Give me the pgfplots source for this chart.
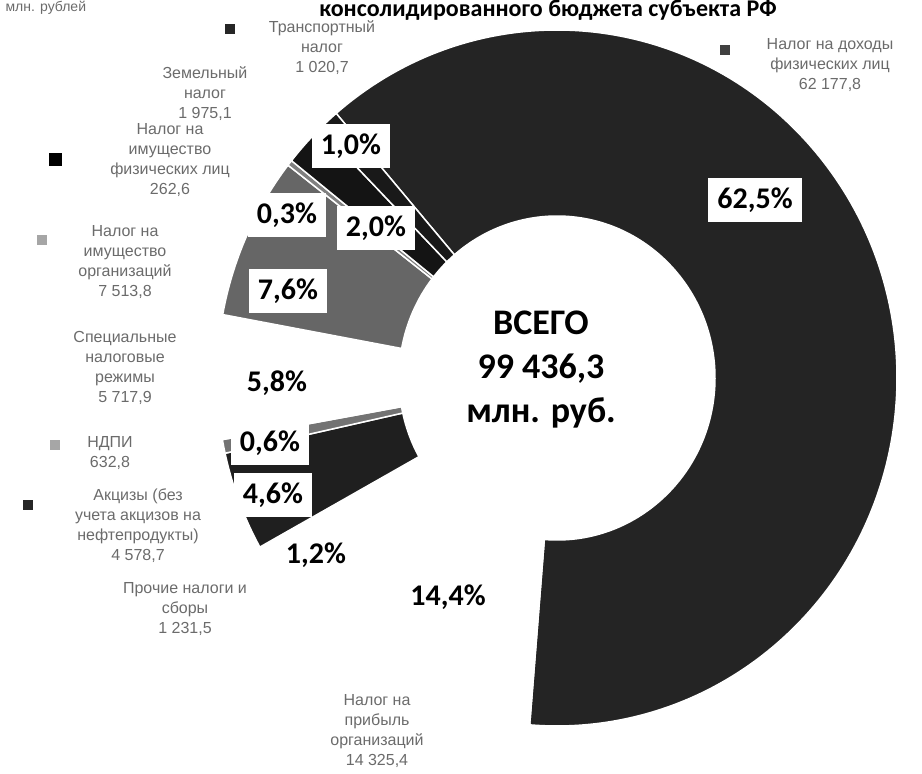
\documentclass[border=0pt]{standalone}
\usepackage{pgfplots}
\usepackage{pgfplotstable}
\pgfplotsset{compat=1.18}
\usepackage{fontspec}
\setmainfont{Carlito}
\newfontfamily\labfont{Liberation Sans}
\definecolor{labgray}{gray}{0.42}

% tax revenue of the consolidated budget, mln rub (clockwise from the top-left)
\pgfplotstableread{
value   dark
62177.8 86
14325.4 0
1231.5  0
4578.7  88
632.8   55
5717.9  0
7513.8  60
262.6   50
1975.1  92
1020.7  90
}\taxdata

\pgfplotstablegetrowsof{\taxdata}
\pgfmathtruncatemacro\lastrow{\pgfplotsretval-1}

\tikzset{
  pct/.style={font=\fontsize{30}{36}\selectfont\bfseries, text=black, inner sep=0pt},
  pctbox/.style={pct, fill=white, inner xsep=9pt, inner ysep=10pt},
  lab/.style={align=center, font=\labfont\fontsize{16}{20}\selectfont, text=labgray},
  key/.style={minimum size=10pt, inner sep=0pt}
}

\begin{document}
\begin{tikzpicture}
\useasboundingbox (0,0) rectangle (922pt,774pt);
\begin{axis}[
  at={(0,0)}, anchor=south west,
  x=1pt, y=1pt, scale only axis,
  xmin=0, xmax=922, ymin=0, ymax=774,
  hide axis, clip=false
]
% doughnut slices
\def\cumangle{130.5}
\pgfplotsforeachungrouped \i in {0,...,\lastrow}{%
  \pgfplotstablegetelem{\i}{value}\of\taxdata \let\val\pgfplotsretval
  \pgfplotstablegetelem{\i}{dark}\of\taxdata \let\dk\pgfplotsretval
  \edef\endangle{\fpeval{round(\cumangle-360*\val/99436.3,4)}}%
  \edef\temp{\noexpand\fill[black!\dk, draw=white, line width=1.5pt]
    (axis cs:557,396) ++(\cumangle:340pt and 348pt)
    arc[start angle=\cumangle, end angle=\endangle, x radius=340pt, y radius=348pt]
    -- ([shift={(\endangle:158pt and 162pt)}]axis cs:557,396)
    arc[start angle=\endangle, end angle=\cumangle, x radius=158pt, y radius=162pt]
    -- cycle;}%
  \temp
  \let\cumangle\endangle
}

% title
\node[anchor=base, font=\fontsize{24}{28}\selectfont\bfseries] at (axis cs:548,757)
  {консолидированного бюджета субъекта РФ};
\node[anchor=base west, font=\labfont\fontsize{14}{17}\selectfont, text=labgray] at (axis cs:2,762)
  {млн. рублей};

% centre
\node[align=center, font=\fontsize{36}{44}\selectfont\bfseries] at (axis cs:541,404)
  {ВСЕГО\\99 436,3\\млн. руб.};

% percentages
\node[pctbox] at (axis cs:351,628) {1,0\%};
\node[pctbox] at (axis cs:755,574) {62,5\%};
\node[pctbox] at (axis cs:287,559) {0,3\%};
\node[pctbox] at (axis cs:376,546) {2,0\%};
\node[pctbox] at (axis cs:288,483) {7,6\%};
\node[pct]    at (axis cs:277,391) {5,8\%};
\node[pctbox] at (axis cs:270,331) {0,6\%};
\node[pctbox] at (axis cs:273,279) {4,6\%};
\node[pct]    at (axis cs:316,219) {1,2\%};
\node[pct]    at (axis cs:448,177) {14,4\%};

% category labels
\node[lab] at (axis cs:322,726) {Транспортный\\налог\\1 020,7};
\node[lab] at (axis cs:830,709) {Налог на доходы\\физических лиц\\62 177,8};
\node[lab] at (axis cs:205,680) {Земельный\\налог\\1 975,1};
\node[lab] at (axis cs:170,614) {Налог на\\имущество\\физических лиц\\262,6};
\node[lab] at (axis cs:125,512) {Налог на\\имущество\\организаций\\7 513,8};
\node[lab] at (axis cs:125,406) {Специальные\\налоговые\\режимы\\5 717,9};
\node[lab] at (axis cs:110,321) {НДПИ\\632,8};
\node[lab] at (axis cs:138,248) {Акцизы (без\\учета акцизов на\\нефтепродукты)\\4 578,7};
\node[lab] at (axis cs:185,165) {Прочие налоги и\\сборы\\1 231,5};
\node[lab] at (axis cs:377,43)  {Налог на\\прибыль\\организаций\\14 325,4};

% legend keys beside the labels
\node[key, fill=black!85] at (axis cs:230,745) {};
\node[key, fill=black!75] at (axis cs:725,724) {};
\node[key, fill=black, minimum size=13pt] at (axis cs:55,614) {};
\node[key, fill=black!35] at (axis cs:42,534) {};
\node[key, fill=black!35] at (axis cs:55,329) {};
\node[key, fill=black!85] at (axis cs:28,269) {};
\end{axis}
\end{tikzpicture}
\end{document}
